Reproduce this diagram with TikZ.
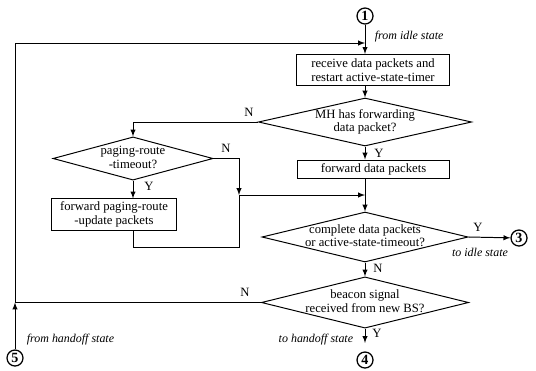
\documentclass[tikz,border=0pt]{standalone}
\usepackage{fontspec}
\setmainfont{Liberation Serif}
\usepackage{xcolor}
\usepackage{tikz}
\usetikzlibrary{shapes.geometric}

% text inside a diamond, kept from growing the shape
\newcommand{\qtext}[1]{\makebox[0pt]{\smash{\raisebox{-2.6pt}{\begin{tabular}{@{}c@{}}#1\end{tabular}}}}}

\tikzset{
  box/.style={draw, rectangle, align=center, inner sep=0pt, font=\fontsize{9}{9.5}\selectfont},
  cond/.style={draw, diamond, inner sep=0pt, font=\fontsize{9}{9.5}\selectfont},
  conn/.style={draw, circle, line width=0.9pt, minimum size=0.4cm, inner sep=0pt, font=\bfseries\fontsize{10}{10}\selectfont},
  note/.style={font=\itshape\fontsize{8.5}{9}\selectfont, inner sep=1pt},
  yn/.style={font=\fontsize{9}{9}\selectfont, inner sep=1pt},
  arr/.style={-latex}
}

\begin{document}
\begin{tikzpicture}[x=0.025cm, y=-0.025cm, line width=0.7pt]
        \useasboundingbox (0,0) rectangle (536,370);

        %% Boxes
        \node[box, minimum width=3.8cm, minimum height=0.78cm] (rcv) at (373,70) {receive data packets and\\restart active-state-timer};
        \node[box, minimum width=3.78cm, minimum height=0.45cm] (fwd) at (373.5,169) {forward data packets};
        \node[box, minimum width=3.1cm, minimum height=0.78cm] (fwdpr) at (114,214.5) {forward paging-route\\-update packets};

        %% Decisions
        \node[cond, minimum width=5.33cm, minimum height=1.2cm] (mh) at (365,122) {\qtext{MH has forwarding\\data packet?}};
        \node[cond, minimum width=4cm, minimum height=1.08cm] (paging) at (133,158.5) {\qtext{paging-route\\-timeout?}};
        \node[cond, minimum width=5.15cm, minimum height=1.25cm] (done) at (365,237) {\qtext{complete data packets\\or active-state-timeout?}};
        \node[cond, minimum width=5.18cm, minimum height=1.28cm] (beacon) at (365,302.5) {\qtext{beacon signal\\received from new BS?}};

        %% Connectors to other states
        \node[conn] (c1) at (365,16) {1};
        \node[conn] (c3) at (519,238) {3};
        \node[conn] (c4) at (365,360) {4};
        \node[conn] (c5) at (15,358) {5};

        % Junctions
        \coordinate (top) at (365,43);
        \coordinate (jn) at (239,195);
        \coordinate (jb) at (239,247);
        \coordinate (jm) at (365,195);

        % Arrows
        \draw[arr] (c1) -- (c1 |- rcv.north);
        \draw[arr] (beacon.west) -- (c5 |- beacon.west) -- (c5 |- top) -- (top);
        \draw[arr] (c5) -- (c5 |- beacon.west);
        \draw[arr] (mh |- rcv.south) -- (mh.north);
        \draw[arr] (mh.south) -- (mh.south |- fwd.north);
        \draw[arr] (mh.west) -- (paging |- mh.west) -- (paging.north);
        \draw[arr] (paging.south) -- (paging.south |- fwdpr.north);
        \draw[arr] (paging.east) -- (paging.east -| jn) -- (jn);
        \draw (paging.south |- fwdpr.south) -- (paging.south |- jb) -- (jb) -- (jn);
        \draw[arr] (jn) -- (jm);
        \draw[arr] (done |- fwd.south) -- (done.north);
        \draw[arr] (done.east) -- (c3);
        \draw[arr] (done.south) -- (beacon.north);
        \draw[arr, shorten >=6pt] (beacon.south) -- (c4.north);

        % Branch labels
        \node[yn] (ymh) at (379,153) {Y};
        \node[yn] (nmh) at (249,112) {N};
        \node[yn] (npg) at (226,148) {N};
        \node[yn] (ypg) at (149,186) {Y};
        \node[yn] (ydone) at (478,227) {Y};
        \node[yn] (ndone) at (378,268) {N};
        \node[yn] (nbc) at (245,292) {N};
        \node[yn] (ybc) at (377,333) {Y};

        % State notes
        \node[note, right] (fromidle) at (373,37) {from idle state};
        \node[note] (toidle) at (480,252) {to idle state};
        \node[note, left] (tohand) at (355,340) {to handoff state};
        \node[note, right] (fromhand) at (25,340) {from handoff state};
\end{tikzpicture}
\end{document}
